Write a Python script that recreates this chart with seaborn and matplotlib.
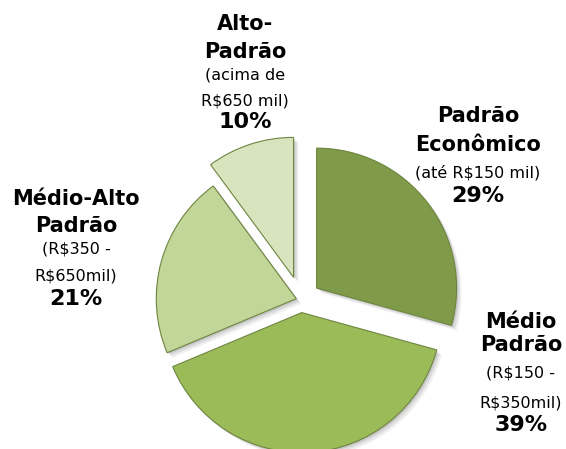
import matplotlib
matplotlib.use("Agg")
import matplotlib.pyplot as plt
import seaborn as sns
import numpy as np

# ---- data ----
names = ["Padrão\nEconômico", "Médio\nPadrão", "Médio-Alto\nPadrão", "Alto-\nPadrão"]
ranges = ["(até R$150 mil)", "(R$150 -\nR$350mil)", "(R$350 -\nR$650mil)", "(acima de\nR$650 mil)"]
values = [29, 39, 21, 10]
colors = ["#7f9b49", "#9bbb59", "#c2d699", "#d8e4bd"]
explode = [0.14, 0.09, 0.035, 0.17]

# label layout: centre x (px) and per-line centre y (px)
label_x = [478, 521, 76, 245]
label_y = [
    [116, 145, 173, 196],
    [322, 345, 373, 403, 425],
    [199, 226, 249, 276, 299],
    [24, 52, 75, 101, 122],
]

sns.set_theme(style="white")
plt.rcParams["font.family"] = ["DejaVu Sans"]

W, H = 566, 449
fig = plt.figure(figsize=(W / 100, H / 100), dpi=100)
ax = fig.add_axes([0, 0, 1, 1])

cx, cy, R = 301, 300, 140  # pie centre and radius in pixels

# soft shadow
for k, a in [(3, 0.06), (2, 0.08), (1, 0.1)]:
    ax.pie(values, explode=explode, colors=["#000000"] * 4, startangle=90,
           counterclock=False, radius=1.0,
           center=(k * 0.012, -k * 0.012), frame=True,
           wedgeprops=dict(alpha=a, linewidth=0))
wedges, _ = ax.pie(values, explode=explode, colors=colors, startangle=90,
                   counterclock=False, radius=1.0, frame=True,
                   wedgeprops=dict(edgecolor="#6d8540", linewidth=0.8))
ax.set_xlim(-cx / R, (W - cx) / R)
ax.set_ylim((cy - H) / R, cy / R)
ax.set_aspect("equal")
ax.axis("off")

for i in range(len(values)):
    lines = [(t, "bold", 15) for t in names[i].split("\n")]
    lines += [(t, "normal", 11.5) for t in ranges[i].split("\n")]
    lines += [(f"{values[i]}%", "bold", 16)]
    for (t, w, s), py in zip(lines, label_y[i]):
        ax.text(label_x[i] / W, 1 - py / H, t, transform=ax.transAxes,
                ha="center", va="center", fontsize=s, fontweight=w, color="black")

fig.savefig("out.png", dpi=100, facecolor="white")
